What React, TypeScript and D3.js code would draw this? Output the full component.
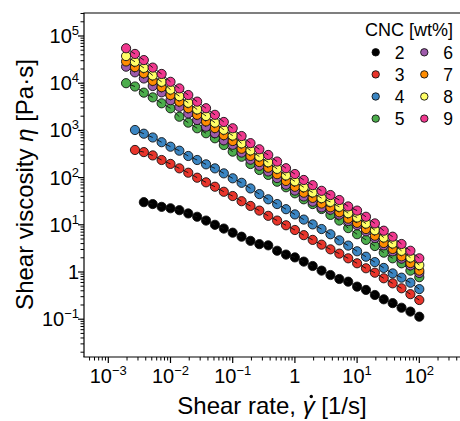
import React, { useLayoutEffect, useRef, useState } from "react";
import * as d3 from "d3";

// Shear rate grid [1/s]
const shearRate = [0.001931, 0.002683, 0.003728, 0.005179, 0.007197, 0.01, 0.01389, 0.01931, 0.02683, 0.03728, 0.05179, 0.07197, 0.1, 0.1389, 0.1931, 0.2683, 0.3728, 0.5179, 0.7197, 1, 1.389, 1.931, 2.683, 3.728, 5.179, 7.197, 10, 13.89, 19.31, 26.83, 37.28, 51.79, 71.97, 100];

// Viscosity [Pa·s] per CNC concentration (null = not measured)
const eta2 = [null, null, 30.2, 27.5, 24.0, 22.4, 20.4, 17.4, 14.8, 12.3, 10.0, 8.32, 6.81, 5.60, 4.57, 3.89, 3.67, 2.82, 2.34, 2.04, 1.66, 1.34, 1.07, 0.863, 0.711, 0.624, 0.490, 0.417, 0.326, 0.264, 0.219, 0.175, 0.145, 0.113];
const eta3 = [null, 385, 347, 295, 236, 195, 157, 127, 99.5, 79.4, 64.1, 50.1, 40.7, 31.6, 25.1, 20.0, 15.5, 12.3, 9.77, 7.76, 6.03, 4.79, 3.80, 3.02, 2.45, 1.95, 1.53, 1.20, 0.966, 0.736, 0.575, 0.452, 0.339, 0.255];
const eta4 = [null, 1020, 851, 708, 562, 452, 372, 287, 236, 191, 157, 123, 96.6, 77.6, 58.9, 44.7, 34.7, 27.5, 21.4, 16.6, 12.9, 10.2, 8.13, 6.31, 4.68, 3.63, 2.75, 2.11, 1.62, 1.22, 0.933, 0.759, 0.593, 0.434];
const eta5 = [10000, 8510, 6310, 5010, 3750, 2940, 1950, 1460, 1110, 871, 681, 490, 355, 277, 194, 145, 114, 81.8, 62.4, 46.5, 34.7, 27.5, 21.6, 16.2, 12.3, 8.51, 6.31, 4.79, 3.55, 2.57, 1.95, 1.53, 1.07, 0.776];
const eta6 = [22400, 17000, 12600, 8720, 6400, 4360, 3160, 2290, 1660, 1200, 872, 615, 496, 339, 240, 178, 135, 97.8, 70.6, 53.1, 39.8, 30.9, 23.4, 20.9, 16.4, 12.0, 9.79, 7.25, 5.24, 3.67, 2.74, 1.92, 1.38, 0.955];
const eta7 = [28900, 21900, 16200, 11200, 8240, 5620, 4070, 2950, 2140, 1550, 1120, 793, 596, 408, 288, 214, 162, 118, 84.9, 63.9, 47.9, 37.2, 28.2, 23.5, 18.4, 13.5, 11.0, 8.13, 5.88, 4.12, 3.08, 2.15, 1.55, 1.07];
const eta8 = [37600, 28500, 21100, 14600, 10700, 7320, 5310, 3840, 2780, 2020, 1460, 1030, 777, 531, 376, 279, 211, 153, 111, 83.3, 62.4, 48.4, 36.7, 30.6, 24.0, 17.6, 14.3, 10.6, 7.66, 5.37, 4.01, 2.81, 2.02, 1.40];
const eta9 = [55000, 41700, 30900, 21400, 15700, 10700, 7760, 5620, 4070, 2950, 2140, 1510, 1110, 759, 537, 398, 302, 219, 158, 119, 89.1, 69.2, 52.5, 42.7, 33.5, 24.5, 20.0, 14.8, 10.7, 7.50, 5.60, 3.92, 2.82, 1.95];

const concentrations = ["2", "3", "4", "5", "6", "7", "8", "9"];
const seriesValues = [eta2, eta3, eta4, eta5, eta6, eta7, eta8, eta9];
const colors = ["#000000", "#e8342a", "#3a85c2", "#4cad4c", "#9e5bab", "#ff8c00", "#ffff66", "#f0388e"];

const xDecades = [-4, -3, -2, -1, 0, 1, 2, 3];
const yDecades = [-2, -1, 0, 1, 2, 3, 4, 5, 6];
const xLabelExps = [-3, -2, -1, 0, 1, 2];
const yLabelExps = [-1, 0, 1, 2, 3, 4, 5];

const FONT = "'Liberation Sans', Arial, Helvetica, sans-serif";

function ExpLabel({ e, supSize }: { e: number; supSize: number }) {
  if (e === 0) return <>1</>;
  const s = e < 0 ? "\u2212" + Math.abs(e) : String(e);
  return (
    <>
      10
      <tspan dy={-8} fontSize={supSize}>{s}</tspan>
    </>
  );
}

export default function App() {
  const W = 460, H = 421;
  const left = 84, top = 13, bottom = 357, right = 472;
  const x = d3.scaleLog().domain([1e-3, 1e2]).range([108.3, 419.3]);
  const y = d3.scaleLog().domain([1e-1, 1e5]).range([319.2, 36]);

  const xTitleRef = useRef<SVGTextElement>(null);
  const [dot, setDot] = useState<[number, number] | null>(null);
  const xTitleY = 414;
  useLayoutEffect(() => {
    const el = xTitleRef.current;
    if (!el) return;
    try {
      const idx = "Shear rate, ".length;
      const s = el.getStartPositionOfChar(idx);
      const e = el.getEndPositionOfChar(idx);
      setDot([(s.x + e.x) / 2 + 2.6, xTitleY - 17.5]);
    } catch (err) {
      setDot([311, xTitleY - 17.5]);
    }
  }, []);

  const xMinor: number[] = [];
  const xMajor: number[] = [];
  xDecades.forEach((d) => {
    for (let m = 1; m < 10; m++) {
      const v = m * Math.pow(10, d);
      const px = x(v);
      if (px >= left && px <= right) (m === 1 ? xMajor : xMinor).push(px);
    }
  });
  const yMinor: number[] = [];
  const yMajor: number[] = [];
  yDecades.forEach((d) => {
    for (let m = 1; m < 10; m++) {
      const v = m * Math.pow(10, d);
      const py = y(v);
      if (py >= top && py <= bottom) (m === 1 ? yMajor : yMinor).push(py);
    }
  });

  const r = 4.6;

  return (
    <svg width={W} height={H} style={{ position: "absolute", left: 0, top: 0, background: "#fff" }} fontFamily={FONT}>
      <rect x={0} y={0} width={W} height={H} fill="#fff" />
      {/* data */}
      {seriesValues.map((vals, si) => {
        const pts = vals
          .map((v, i) => (v == null ? null : [x(shearRate[i]), y(v as number)]))
          .filter((p) => p !== null) as number[][];
        const els: React.ReactNode[] = [];
        for (let i = pts.length - 1; i >= 0; i--) {
          els.push(
            <circle key={"c" + i} cx={pts[i][0]} cy={pts[i][1]} r={r} fill={colors[si]} stroke="#111" strokeWidth={0.9} />
          );
          if (i > 0) {
            els.push(
              <line key={"l" + i} x1={pts[i][0]} y1={pts[i][1]} x2={pts[i - 1][0]} y2={pts[i - 1][1]} stroke="#111" strokeWidth={0.9} />
            );
          }
        }
        return <g key={si}>{els}</g>;
      })}
      {/* axes frame */}
      <g stroke="#000" strokeWidth={1.2} fill="none">
        <line x1={left} y1={top} x2={left} y2={bottom} />
        <line x1={left - 0.6} y1={bottom} x2={right} y2={bottom} />
        <line x1={left - 0.6} y1={top} x2={right} y2={top} />
        {xMajor.map((px, i) => <line key={"xM" + i} x1={px} x2={px} y1={bottom} y2={bottom + 6} />)}
        {xMinor.map((px, i) => <line key={"xm" + i} x1={px} x2={px} y1={bottom} y2={bottom + 3.5} strokeWidth={1} />)}
        {yMajor.map((py, i) => <line key={"yM" + i} x1={left} x2={left - 6} y1={py} y2={py} />)}
        {yMinor.map((py, i) => <line key={"ym" + i} x1={left} x2={left - 3.5} y1={py} y2={py} strokeWidth={1} />)}
      </g>
      {/* tick labels */}
      <g fontSize={20} fill="#000">
        {yLabelExps.map((e) => (
          <text key={"yl" + e} x={79} y={y(Math.pow(10, e)) + 7} textAnchor="end">
            <ExpLabel e={e} supSize={13} />
          </text>
        ))}
        {xLabelExps.map((e) => (
          <text key={"xl" + e} x={x(Math.pow(10, e))} y={383} textAnchor="middle">
            <ExpLabel e={e} supSize={13} />
          </text>
        ))}
      </g>
      {/* axis titles */}
      <text ref={xTitleRef} x={272} y={xTitleY} textAnchor="middle" fontSize={24}>
        Shear rate, <tspan fontStyle="italic">γ</tspan> [1/s]
      </text>
      {dot && <circle cx={dot[0]} cy={dot[1]} r={1.7} fill="#000" />}
      <text transform={`translate(33,184.5) rotate(-90)`} textAnchor="middle" fontSize={24}>
        Shear viscosity <tspan fontStyle="italic">η</tspan> [Pa·s]
      </text>
      {/* legend */}
      <text x={453} y={36} textAnchor="end" fontSize={18}>CNC [wt%]</text>
      {concentrations.map((c, i) => {
        const col = i < 4 ? 0 : 1;
        const row = i % 4;
        const mx = col === 0 ? 375.7 : 424.3;
        const my = 52.3 + row * 22.1;
        return (
          <g key={"lg" + c}>
            <circle cx={mx} cy={my} r={3.7} fill={colors[i]} stroke="#111" strokeWidth={0.9} />
            <text x={mx + 19} y={my + 6.2} fontSize={17.5}>{c}</text>
          </g>
        );
      })}
    </svg>
  );
}
